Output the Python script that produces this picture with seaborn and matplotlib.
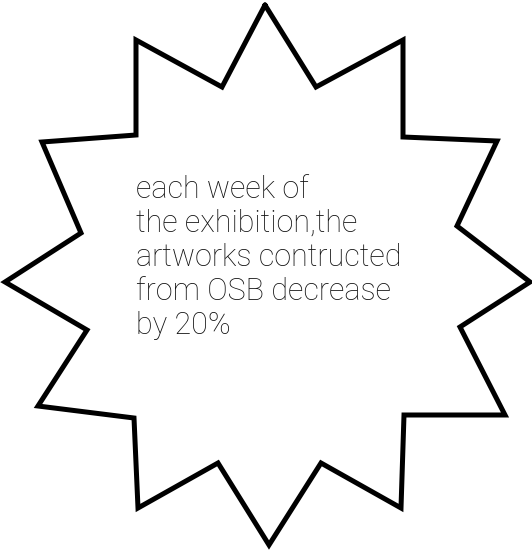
import numpy as np
import pandas as pd
import seaborn as sns
import matplotlib.pyplot as plt

# 星形的顶点（像素坐标，从顶尖开始顺时针）
star_x = [265, 316, 403, 403, 497, 457, 530, 460, 505, 404, 401, 321,
          269, 218, 138, 134, 38, 87, 5, 81, 42, 136, 136, 222, 265]
star_y = [5, 87, 40, 137, 141, 226, 282, 327, 415, 415, 508, 463,
          545, 463, 508, 418, 406, 330, 282, 233, 142, 135, 40, 87, 5]

note_lines = ["each week of", "the exhibition,the", "artworks contructed",
              "from OSB decrease", "by 20%"]

sns.set_style("white")
plt.rcParams['font.family'] = ['Roboto', 'DejaVu Sans']

fig = plt.figure(figsize=(5.32, 5.5), dpi=100)
ax = fig.add_axes([0, 0, 1, 1])

df = pd.DataFrame({"x": star_x, "y": star_y})
sns.lineplot(data=df, x="x", y="y", sort=False, estimator=None,
             color="black", linewidth=3.6, ax=ax)
ax.lines[0].set_solid_joinstyle("miter")

ax.text(136, 175, "\n".join(note_lines), fontsize=22, fontweight="light",
        color="#111111", va="top", ha="left", linespacing=1.22)

ax.set_xlim(0, 532)
ax.set_ylim(550, 0)
ax.axis("off")

plt.savefig("out.png", dpi=100)
